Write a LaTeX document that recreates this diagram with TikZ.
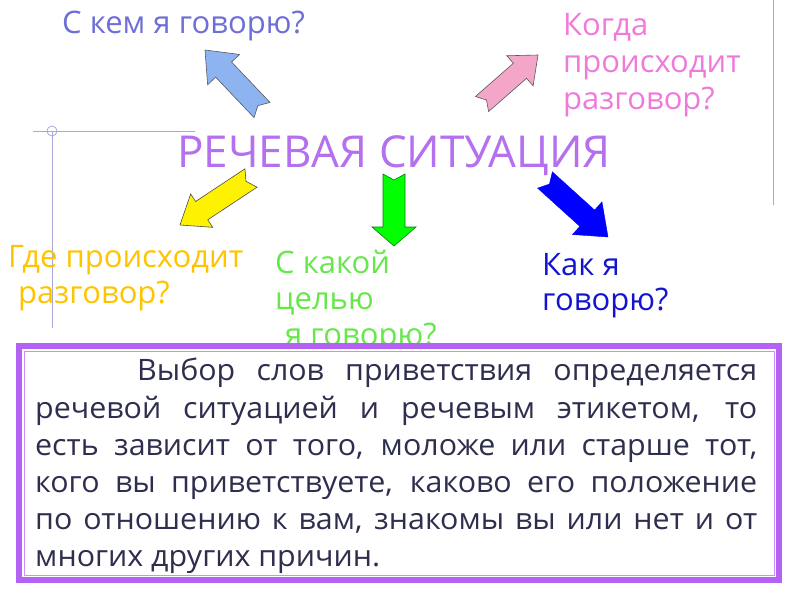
\documentclass[tikz,border=0pt]{standalone}
\usepackage{fontspec}
\setmainfont{Open Sans}
\newfontfamily\bodyfont[FakeStretch=1.03]{Open Sans}
\usetikzlibrary{calc}
\definecolor{cblue}{HTML}{6E6ED8}
\definecolor{cpink}{HTML}{F07ADC}
\definecolor{cviolet}{HTML}{B470EE}
\definecolor{cgold}{HTML}{FFC400}
\definecolor{cgreen}{HTML}{66E84A}
\definecolor{cnavy}{HTML}{1414D0}
\definecolor{ctext}{HTML}{2E2E4E}
\definecolor{cframe}{HTML}{B362F4}
\definecolor{cguide}{HTML}{A8A8D8}
\definecolor{farrblue}{HTML}{8DB4F0}
\definecolor{farrpink}{HTML}{F4A6C8}
\newcommand{\blockarrow}[7]{%
  % #1 tail, #2 tip, #3 shaft half width, #4 head half width, #5 head length, #6 notch, #7 style
  \coordinate (H) at ($(#2)!#5pt!(#1)$);
  \draw[#7] ($(#1)!#3pt!90:(#2)$) -- ($(H)!#3pt!90:(#2)$) -- ($(H)!#4pt!90:(#2)$) -- (#2)
    -- ($(H)!#4pt!-90:(#2)$) -- ($(H)!#3pt!-90:(#2)$) -- ($(#1)!#3pt!-90:(#2)$)
    -- ($(#1)!#6pt!(#2)$) -- cycle;}
\tikzset{
  lbl/.style={anchor=base west, inner sep=0pt, font=\fontsize{31}{37}\selectfont},
  bodyline/.style={anchor=base west, inner sep=0pt, text=ctext, font=\bodyfont\fontsize{29.5}{37}\selectfont},
  arr/.style={draw=gray!70!black, line width=0.6pt, line join=miter},
  guide/.style={draw=cguide, line width=0.8pt}
}
\begin{document}
\begin{tikzpicture}[x=1pt,y=-1pt]
\useasboundingbox (0,0) rectangle (800,600);
\fill[white] (0,0) rectangle (800,600);
% guide lines
\draw[guide] (773,0) -- (773,205);
\draw[guide] (33,131) -- (195,131);
\draw[guide] (52,131) -- (52,328);
\draw[guide] (52,131) circle (5);
% title
\node[anchor=base, inner sep=0pt, text=cviolet, font=\fontsize{44}{50}\selectfont] (title) at (394,167) {РЕЧЕВАЯ СИТУАЦИЯ};
% labels
\node[lbl, text=cblue] (who) at (62,33) {С кем я говорю?};
\node[lbl, text=cpink] (when1) at (563,35) {Когда};
\node[lbl, text=cpink] (when2) at (563,72) {происходит};
\node[lbl, text=cpink] (when3) at (563,109) {разговор?};
\node[lbl, text=cgold] (where1) at (8,267) {Где происходит};
\node[lbl, text=cgold] (where2) at (18,303) {разговор?};
\node[lbl, text=cgreen] (why1) at (275,273) {С какой};
\node[lbl, text=cgreen] (why2) at (275,309) {целью};
\node[lbl, text=cgreen] (why3) at (285,345) {я говорю?};
\node[lbl, text=cnavy] (how1) at (542,275) {Как я};
\node[lbl, text=cnavy] (how2) at (542,310) {говорю?};
% arrows
\coordinate (a1) at (262,110); \coordinate (b1) at (205,50);
\blockarrow{a1}{b1}{11}{22}{27}{6}{arr, fill=farrblue}
\coordinate (a2) at (482,104); \coordinate (b2) at (538,55);
\blockarrow{a2}{b2}{10}{20}{24}{6}{arr, fill=farrpink}
\coordinate (a3) at (251,178); \coordinate (b3) at (180,225);
\blockarrow{a3}{b3}{11}{20}{26}{6}{arr, draw=black!70, fill=yellow}
\coordinate (a4) at (394,174); \coordinate (b4) at (394,246);
\blockarrow{a4}{b4}{11}{22}{19}{6}{arr, draw=green!50!black, fill=green}
\coordinate (a5) at (545,180); \coordinate (b5) at (608,237);
\blockarrow{a5}{b5}{11}{22}{28}{6}{draw=blue, fill=blue}
% text box
\draw[draw=cframe, line width=6pt, fill=white] (19,346) rectangle (779,580);
\draw[draw=cframe!70, line width=0.8pt] (24,351) rectangle (774,575);
\node[bodyline] (l1) at (137,380) {\makebox[620pt][s]{Выбор слов приветствия определяется}};
\node[bodyline] (l2) at (35,418) {\makebox[722pt][s]{речевой ситуацией и речевым этикетом, то}};
\node[bodyline] (l3) at (35,455) {\makebox[722pt][s]{есть зависит от того, моложе или старше тот,}};
\node[bodyline] (l4) at (35,492) {\makebox[722pt][s]{кого вы приветствуете, каково его положение}};
\node[bodyline] (l5) at (35,529) {\makebox[722pt][s]{по отношению к вам, знакомы вы или нет и от}};
\node[bodyline] (l6) at (35,566) {многих других причин.};
\end{tikzpicture}
\end{document}
